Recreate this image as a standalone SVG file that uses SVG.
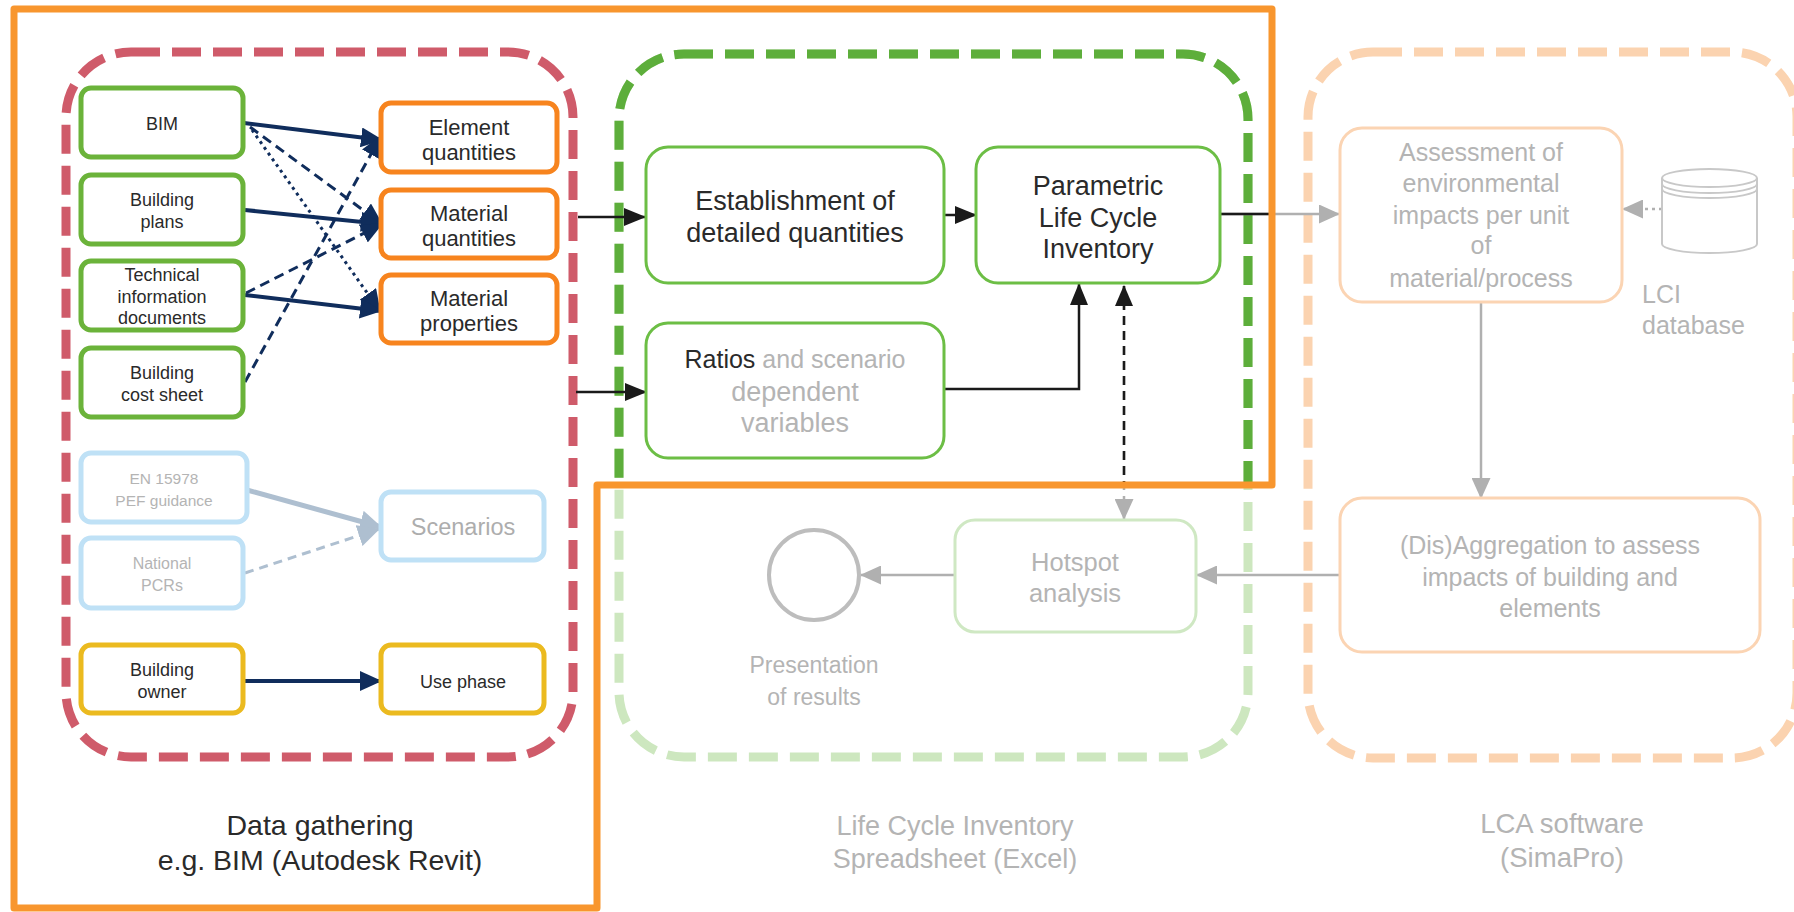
<svg xmlns="http://www.w3.org/2000/svg" width="1794" height="912" viewBox="0 0 1794 912">
<defs>
<style>
text{font-family:"Liberation Sans",Arial,sans-serif;text-anchor:middle}
.dk{fill:#2a2a2a}
.gy{fill:#adadad}
.lg{fill:#b4b4b4}
.gbox{fill:#fff;stroke:#6bb33a;stroke-width:5}
.obox{fill:#fff;stroke:#f7841e;stroke-width:5}
.bbox{fill:#fff;stroke:#bfe1f6;stroke-width:5}
.ybox{fill:#fff;stroke:#ebba1f;stroke-width:5}
.vbox{fill:#fff;stroke:#6cbe45;stroke-width:3}
.fbox{fill:#fff;stroke:#cfe8c3;stroke-width:3}
.pbox{fill:#fff;stroke:#fbd4b3;stroke-width:3}
.s18{font-size:18px}
.s22{font-size:22px}
.s27{font-size:27px}
.s25{font-size:25px}
.nv{stroke:#102d5c;fill:none}
.bk{stroke:#1a1a1a;fill:none;stroke-width:2.5}
.gl{stroke:#b0b0b0;fill:none;stroke-width:2.5}
</style>
<marker id="an" viewBox="0 0 22 20" refX="21" refY="10" markerWidth="22" markerHeight="20" markerUnits="userSpaceOnUse" orient="auto"><path d="M0,0 L22,10 L0,20 z" fill="#102d5c"/></marker>
<marker id="ab" viewBox="0 0 22 18" refX="21" refY="9" markerWidth="22" markerHeight="18" markerUnits="userSpaceOnUse" orient="auto"><path d="M0,0 L22,9 L0,18 z" fill="#1a1a1a"/></marker>
<marker id="ag" viewBox="0 0 21 19" refX="20" refY="9.5" markerWidth="21" markerHeight="19" markerUnits="userSpaceOnUse" orient="auto"><path d="M0,0 L21,9.5 L0,19 z" fill="#b0b0b0"/></marker>
<marker id="ags" viewBox="0 0 21 18" refX="1" refY="9" markerWidth="21" markerHeight="18" markerUnits="userSpaceOnUse" orient="auto"><path d="M21,0 L0,9 L21,18 z" fill="#1a1a1a"/></marker>
<marker id="al" viewBox="0 0 22 22" refX="21" refY="11" markerWidth="22" markerHeight="22" markerUnits="userSpaceOnUse" orient="auto"><path d="M0,0 L22,11 L0,22 z" fill="#aebfd0"/></marker>
<clipPath id="hl"><path d="M14,9 H1272 V485 H597 V908 H14 Z"/></clipPath>
</defs>
<rect width="1794" height="912" fill="#fff"/>

<g id="containers">
<rect id="dataGathering" x="66" y="52" width="507" height="705" rx="65" fill="none" stroke="#cf5b6a" stroke-width="9" stroke-dasharray="29 12"/>
<rect x="619" y="54" width="629" height="703" rx="65" fill="none" stroke="#cde7bf" stroke-width="9" stroke-dasharray="29 12"/>
<rect id="lciSpreadsheet" x="619" y="54" width="629" height="703" rx="65" fill="none" stroke="#5dae3b" stroke-width="9" stroke-dasharray="29 12" clip-path="url(#hl)"/>
<rect id="lcaSoftware" x="1308" y="52" width="489" height="706" rx="65" fill="none" stroke="#fbd3b0" stroke-width="9" stroke-dasharray="29 12"/>
</g>

<g id="connectors">
<path class="nv" stroke-width="4" d="M244,123 L382,140" marker-end="url(#an)"/>
<path class="nv" stroke-width="3" stroke-dasharray="10 6" d="M250,127 L382,224" marker-end="url(#an)"/>
<path class="nv" stroke-width="3" stroke-dasharray="3 4" d="M252,130 L380,311" marker-end="url(#an)"/>
<path class="nv" stroke-width="4" d="M245,210 L382,224" marker-end="url(#an)"/>
<path class="nv" stroke-width="3" stroke-dasharray="10 6" d="M246,293 L382,224" marker-end="url(#an)"/>
<path class="nv" stroke-width="4" d="M245,295 L381,311" marker-end="url(#an)"/>
<path class="nv" stroke-width="3" stroke-dasharray="10 6" d="M245,382 L381,136" marker-end="url(#an)"/>
<path class="nv" stroke-width="4" d="M243,681 L381,681" marker-end="url(#an)"/>
<path stroke="#aebfd0" fill="none" stroke-width="5" d="M247,490 L381,527" marker-end="url(#al)"/>
<path stroke="#aebfd0" fill="none" stroke-width="3" stroke-dasharray="9 6" d="M245,573 L379,529" marker-end="url(#al)"/>
<path class="bk" d="M578,217 L645,217" marker-end="url(#ab)"/>
<path class="bk" d="M576,392 L646,392" marker-end="url(#ab)"/>
<path class="bk" d="M944,215 L976,215" marker-end="url(#ab)"/>
<path class="bk" d="M944,389 H1079 V284" marker-end="url(#ab)"/>
<path class="gl" stroke-dasharray="9 6" d="M1124,286 L1124,519" marker-end="url(#ag)"/>
<path class="bk" stroke-dasharray="9 6" d="M1124,286 L1124,485" marker-start="url(#ags)" clip-path="url(#hl)"/>
<path class="gl" d="M1219,214 L1339,214" marker-end="url(#ag)"/>
<path class="bk" d="M1219,214 L1272,214" clip-path="url(#hl)"/>
<path class="gl" d="M1481,302 L1481,498" marker-end="url(#ag)"/>
<path class="gl" d="M1340,575 L1197,575" marker-end="url(#ag)"/>
<path class="gl" d="M955,575 L861,575" marker-end="url(#ag)"/>
<path class="gl" stroke-dasharray="3 4" d="M1662,209 L1623,209" marker-end="url(#ag)"/>
</g>

<g id="bim"><rect class="gbox" x="81" y="88" width="162" height="69" rx="10"/><text class="dk s18" x="162" y="130">BIM</text></g>
<g id="buildingPlans"><rect class="gbox" x="81" y="175" width="162" height="69" rx="10"/><text class="dk s18" x="162" y="206">Building</text><text class="dk s18" x="162" y="228">plans</text></g>
<g id="technicalDocs"><rect class="gbox" x="81" y="261" width="162" height="69" rx="10"/><text class="dk s18" x="162" y="281">Technical</text><text class="dk s18" x="162" y="303">information</text><text class="dk s18" x="162" y="324">documents</text></g>
<g id="costSheet"><rect class="gbox" x="81" y="348" width="162" height="69" rx="10"/><text class="dk s18" x="162" y="379">Building</text><text class="dk s18" x="162" y="401">cost sheet</text></g>

<g id="elementQuantities"><rect class="obox" x="381" y="103" width="176" height="69" rx="10"/><text class="dk s22" x="469" y="135">Element</text><text class="dk s22" x="469" y="160">quantities</text></g>
<g id="materialQuantities"><rect class="obox" x="381" y="190" width="176" height="68" rx="10"/><text class="dk s22" x="469" y="221">Material</text><text class="dk s22" x="469" y="246">quantities</text></g>
<g id="materialProperties"><rect class="obox" x="381" y="275" width="176" height="68" rx="10"/><text class="dk s22" x="469" y="306">Material</text><text class="dk s22" x="469" y="331">properties</text></g>

<g id="en15978"><rect class="bbox" x="81" y="453" width="166" height="69" rx="10"/><text class="lg" font-size="15.5" x="164" y="483.5">EN 15978</text><text class="lg" font-size="15.5" x="164" y="505.5">PEF guidance</text></g>
<g id="nationalPcrs"><rect class="bbox" x="81" y="538" width="162" height="70" rx="10"/><text class="lg" font-size="16" x="162" y="569">National</text><text class="lg" font-size="16" x="162" y="591">PCRs</text></g>
<g id="scenarios"><rect class="bbox" x="381" y="492" width="163" height="68" rx="10"/><text class="gy" font-size="23.5" x="463" y="535">Scenarios</text></g>

<g id="buildingOwner"><rect class="ybox" x="81" y="645" width="162" height="68" rx="10"/><text class="dk s18" x="162" y="676">Building</text><text class="dk s18" x="162" y="698">owner</text></g>
<g id="usePhase"><rect class="ybox" x="381" y="645" width="163" height="68" rx="10"/><text class="dk s18" x="463" y="688">Use phase</text></g>

<g id="dataGatheringLabel"><text class="dk" font-size="28.5" x="320" y="835">Data gathering</text><text class="dk" font-size="28.5" x="320" y="870">e.g. BIM (Autodesk Revit)</text></g>

<g id="establishment"><rect class="vbox" x="646" y="147" width="298" height="136" rx="22"/><text class="dk s27" x="795" y="209.5">Establishment of</text><text class="dk s27" x="795" y="241.5">detailed quantities</text></g>
<g id="parametricLci"><rect class="vbox" x="976" y="147" width="244" height="136" rx="22"/><text class="dk s27" x="1098" y="194.5">Parametric</text><text class="dk s27" x="1098" y="226.5">Life Cycle</text><text class="dk s27" x="1098" y="257.5">Inventory</text></g>
<g id="ratios"><rect class="vbox" x="646" y="323" width="298" height="135" rx="22"/><text class="s25" x="795" y="368"><tspan class="dk">Ratios</tspan><tspan class="lg"> and scenario</tspan></text><text class="lg s27" x="795" y="401">dependent</text><text class="lg s27" x="795" y="432">variables</text></g>

<g id="hotspot"><rect class="fbox" x="955" y="520" width="241" height="112" rx="20"/><text class="lg" font-size="25.5" x="1075" y="571">Hotspot</text><text class="lg" font-size="25.5" x="1075" y="602">analysis</text></g>
<g id="presentation"><circle cx="814" cy="575" r="45" fill="#fff" stroke="#bdbdbd" stroke-width="4"/><text class="lg" font-size="23" x="814" y="673">Presentation</text><text class="lg" font-size="23" x="814" y="705">of results</text></g>
<g id="lciLabel"><text class="lg s27" x="955" y="834.5">Life Cycle  Inventory</text><text class="lg s27" x="955" y="867.5">Spreadsheet (Excel)</text></g>

<g id="assessment"><rect class="pbox" x="1340" y="128" width="282" height="174" rx="22"/>
<text class="lg s25" x="1481" y="161">Assessment of</text><text class="lg s25" x="1481" y="192">environmental</text><text class="lg s25" x="1481" y="224">impacts per unit</text><text class="lg s25" x="1481" y="254">of</text><text class="lg s25" x="1481" y="287">material/process</text></g>
<g id="lciDatabase" fill="none" stroke="#c8c8c8" stroke-width="2">
<path d="M1662,178 V244 A47.5,9 0 0 0 1757,244 V178" fill="#fff"/>
<ellipse cx="1709.5" cy="178" rx="47.5" ry="9" fill="#fff"/>
<path d="M1662,184 A47.5,9 0 0 0 1757,184"/>
<path d="M1662,189 A47.5,9 0 0 0 1757,189"/>
<text class="lg s25" x="1642" y="303" stroke="none" style="text-anchor:start">LCI</text>
<text class="lg s25" x="1642" y="334" stroke="none" style="text-anchor:start">database</text>
</g>
<g id="disaggregation"><rect class="pbox" x="1340" y="498" width="420" height="154" rx="22"/><text class="lg s25" x="1550" y="554">(Dis)Aggregation to assess</text><text class="lg s25" x="1550" y="586">impacts of building and</text><text class="lg s25" x="1550" y="617">elements</text></g>
<g id="lcaLabel"><text class="lg" font-size="27.5" x="1562" y="833">LCA software</text><text class="lg" font-size="27.5" x="1562" y="867">(SimaPro)</text></g>

<g id="highlight"><path d="M14,9 H1272 V485 H597 V908 H14 Z" fill="none" stroke="#f8962e" stroke-width="7" stroke-linejoin="round"/></g>
</svg>
